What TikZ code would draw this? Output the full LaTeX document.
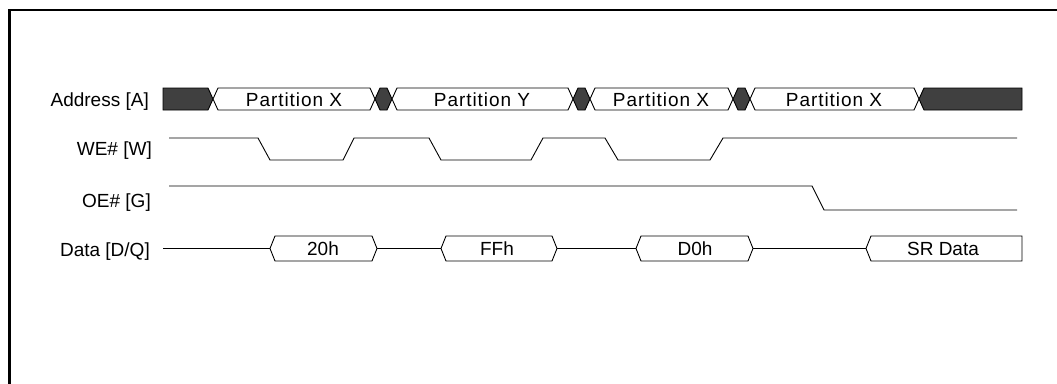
\documentclass[tikz,border=0pt]{standalone}
\usepackage{fontspec}
\setmainfont{Liberation Sans}
\newfontfamily\partfont{Liberation Sans}[LetterSpace=5]
\definecolor{busdark}{HTML}{404040}
\begin{document}
\begin{tikzpicture}[x=1pt,y=-1pt,
  wave/.style={draw=black,line width=0.9pt,line join=miter},
  busdark/.style={wave,fill=busdark},
  buswhite/.style={wave,fill=white},
  siglabel/.style={anchor=base east,inner sep=0pt,font=\fontsize{19}{22}\selectfont},
  boxtext/.style={anchor=base,inner sep=0pt,font=\fontsize{19}{22}\selectfont},
  parttext/.style={anchor=base,inner sep=0pt,font=\fontsize{19}{22}\selectfont\partfont}]
\useasboundingbox (0,0) rectangle (1057,383);
\fill[white] (0,0) rectangle (1057,383);
% frame
\draw[line width=2.3pt] (9.5,384) -- (9.5,10) -- (1058,10);

% signal labels
\node[siglabel] (lA) at (149,106) {Address [A]};
\node[siglabel] (lW) at (152,155) {WE\# [W]};
\node[siglabel] (lG) at (151,207) {OE\# [G]};
\node[siglabel] (lD) at (150,256) {Data [D/Q]};

% Address bus
\draw[busdark] (163,88) -- (208,88) -- (213,99) -- (208,110) -- (163,110) -- cycle;
\draw[buswhite] (213,99) -- (218,88) -- (370,88) -- (375,99) -- (370,110) -- (218,110) -- cycle;
\draw[busdark] (375,99) -- (380,88) -- (387,88) -- (392,99) -- (387,110) -- (380,110) -- cycle;
\draw[buswhite] (392,99) -- (397,88) -- (568,88) -- (573,99) -- (568,110) -- (397,110) -- cycle;
\draw[busdark] (573,99) -- (578,88) -- (585,88) -- (590,99) -- (585,110) -- (578,110) -- cycle;
\draw[buswhite] (590,99) -- (595,88) -- (728,88) -- (733,99) -- (728,110) -- (595,110) -- cycle;
\draw[busdark] (733,99) -- (738,88) -- (745,88) -- (750,99) -- (745,110) -- (738,110) -- cycle;
\draw[buswhite] (750,99) -- (755,88) -- (914,88) -- (919,99) -- (914,110) -- (755,110) -- cycle;
\draw[busdark] (919,99) -- (924,88) -- (1022,88) -- (1022,110) -- (924,110) -- cycle;
\node[parttext] (a1) at (294,106) {Partition X};
\node[parttext] (a2) at (482,106) {Partition Y};
\node[parttext] (a3) at (661,106) {Partition X};
\node[parttext] (a4) at (834,106) {Partition X};

% WE#
\draw[wave] (169,138) -- (258,138) -- (270,160) -- (343,160) -- (354,138)
  -- (429,138) -- (441,160) -- (531,160) -- (543,138)
  -- (605,138) -- (618,160) -- (710,160) -- (723,138) -- (1017,138);

% OE#
\draw[wave] (169,186) -- (812,186) -- (824,210) -- (1017,210);

% Data
\draw[wave] (163,248.5) -- (270,248.5);
\draw[wave] (270,248.5) -- (275,236) -- (372,236) -- (377,248.5) -- (372,261) -- (275,261) -- cycle;
\draw[wave] (377,248.5) -- (441,248.5);
\draw[wave] (441,248.5) -- (446,236) -- (552,236) -- (557,248.5) -- (552,261) -- (446,261) -- cycle;
\draw[wave] (557,248.5) -- (636,248.5);
\draw[wave] (636,248.5) -- (641,236) -- (748,236) -- (753,248.5) -- (748,261) -- (641,261) -- cycle;
\draw[wave] (753,248.5) -- (866,248.5);
\draw[wave] (866,248.5) -- (871,236) -- (1022,236) -- (1022,261) -- (871,261) -- cycle;
\node[boxtext] (d1) at (323,255.5) {20h};
\node[boxtext] (d2) at (497,255.5) {FFh};
\node[boxtext] (d3) at (695,255.5) {D0h};
\node[boxtext] (d4) at (943,255.5) {SR Data};
\end{tikzpicture}
\end{document}
